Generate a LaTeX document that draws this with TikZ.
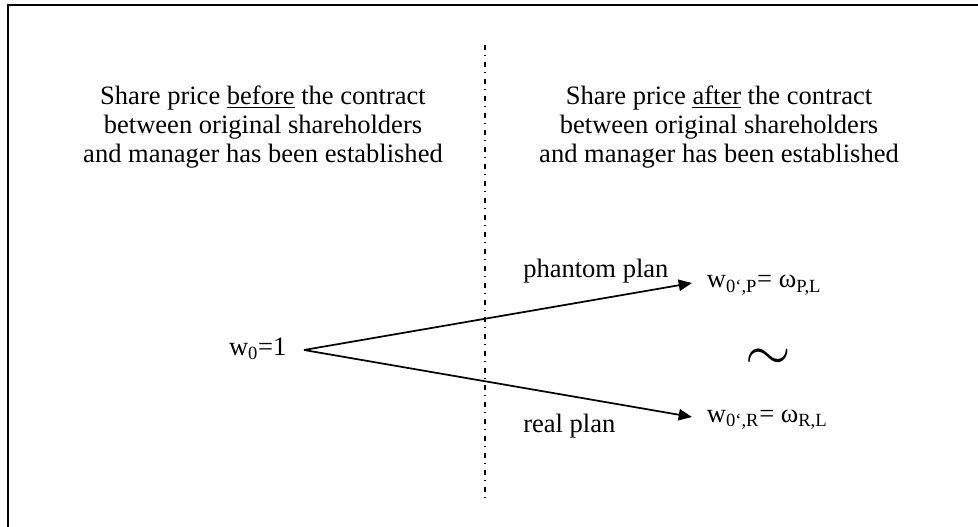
\documentclass[tikz,border=0pt]{standalone}
\usepackage{fontspec}
\setmainfont{Liberation Serif}
\usetikzlibrary{positioning,arrows.meta}

\begin{document}
\begin{tikzpicture}[x=0.75pt, y=-0.75pt,
            arrowstyle/.style={-{Triangle[length=10pt, width=8.5pt]}, line width=1.3pt},
            splitline/.style={line width=1pt, dash pattern=on 3.75pt off 4pt on 0.75pt off 4.25pt}]
            % Text styles
            \tikzstyle{headnode} = [align=center, inner sep=0pt, anchor=north, font=\fontsize{19.9pt}{21.4pt}\selectfont]
            \tikzstyle{valnode} = [font=\fontsize{19.9pt}{21.4pt}\selectfont, text height=1em, text depth=0.25em]
            \tikzstyle{plannode} = [inner sep=0pt, anchor=base west, font=\fontsize{19.9pt}{21.4pt}\selectfont]
            \useasboundingbox (0,0) rectangle (978,527);
            % Frame, cut off at the right and at the bottom
            \draw [line width=1.5pt] (978,5) -| (8,527);
            % Split between before and after
            \draw [splitline] (485,45) -- (485,500);

            % Headings
            \node (before) [headnode] at (263,86) {Share price \underline{before} the contract\\between original shareholders\\and manager has been established};
            \node (after) [headnode] at (719,86) {Share price \underline{after} the contract\\between original shareholders\\and manager has been established};

            % Share values
            \node (wnull) [valnode, anchor=east, inner xsep=13pt] at (304,350) {w\textsubscript{0}=1};
            \node (wphantom) [valnode, anchor=west, inner xsep=11pt] at (692,283) {w\textsubscript{0‘,P}= ω\textsubscript{P,L}};
            \node (wreal) [valnode, anchor=west, inner xsep=11pt] at (692,417) {w\textsubscript{0‘,R}= ω\textsubscript{R,L}};
            \node (sim) at (768,360) {\scalebox{4.4}{$\sim$}};

            % Plan labels
            \node (phantom) [plannode] at (523,277) {phantom plan};
            \node (real) [plannode] at (523,432) {real plan};

            % Draw the arrows
            \draw [arrowstyle] (wnull.east) -- (wphantom.west);
            \draw [arrowstyle] (wnull.east) -- (wreal.west);
        \end{tikzpicture}
\end{document}
